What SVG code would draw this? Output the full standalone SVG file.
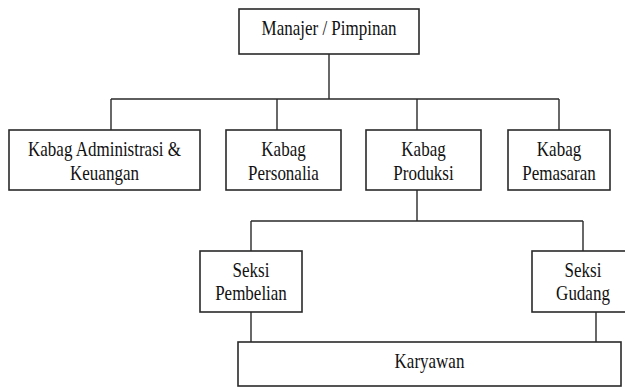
<svg xmlns="http://www.w3.org/2000/svg" width="625" height="387" viewBox="0 0 625 387">
<style>
.box{fill:#ffffff;stroke:#2a2a2a;stroke-width:1.6}
.ln{fill:none;stroke:#2a2a2a;stroke-width:1.4}
.t{font-family:'Liberation Serif','Times New Roman',serif;font-size:20px;fill:#111;text-anchor:middle}
</style>
<rect width="625" height="387" fill="#ffffff"/>
<g id="connectors">
<path class="ln" d="M329 54V99M111 99H559M111 99V130M277 99V130M417 99V130M559 99V130"/>
<path class="ln" d="M417 190V221M251 221H583M251 221V251M583 221V251"/>
<path class="ln" d="M251 312V342M596 312V342"/>
</g>
<g id="manajer">
<rect class="box" x="239" y="9" width="180" height="45"/>
<text class="t" transform="matrix(0.85 0 0 1 329 34.5)">Manajer / Pimpinan</text>
</g>
<g id="kabag-admin">
<rect class="box" x="9" y="130" width="191" height="60"/>
<text class="t" transform="matrix(0.85 0 0 1 104.5 156)">Kabag Administrasi &amp;</text>
<text class="t" transform="matrix(0.85 0 0 1 104.5 180)">Keuangan</text>
</g>
<g id="kabag-personalia">
<rect class="box" x="226" y="130" width="115" height="60"/>
<text class="t" transform="matrix(0.85 0 0 1 283.5 156)">Kabag</text>
<text class="t" transform="matrix(0.85 0 0 1 283.5 180)">Personalia</text>
</g>
<g id="kabag-produksi">
<rect class="box" x="366" y="130" width="115" height="60"/>
<text class="t" transform="matrix(0.85 0 0 1 423.5 156)">Kabag</text>
<text class="t" transform="matrix(0.85 0 0 1 423.5 180)">Produksi</text>
</g>
<g id="kabag-pemasaran">
<rect class="box" x="508" y="130" width="102" height="60"/>
<text class="t" transform="matrix(0.85 0 0 1 559 156)">Kabag</text>
<text class="t" transform="matrix(0.85 0 0 1 559 180)">Pemasaran</text>
</g>
<g id="seksi-pembelian">
<rect class="box" x="200" y="251" width="102" height="61"/>
<text class="t" transform="matrix(0.85 0 0 1 251 277)">Seksi</text>
<text class="t" transform="matrix(0.85 0 0 1 251 300)">Pembelian</text>
</g>
<g id="seksi-gudang">
<rect class="box" x="532" y="251" width="102" height="61"/>
<text class="t" transform="matrix(0.85 0 0 1 583 277)">Seksi</text>
<text class="t" transform="matrix(0.85 0 0 1 583 300)">Gudang</text>
</g>
<g id="karyawan">
<rect class="box" x="238" y="342" width="383" height="44"/>
<text class="t" transform="matrix(0.85 0 0 1 429.5 367.5)">Karyawan</text>
</g>
</svg>
